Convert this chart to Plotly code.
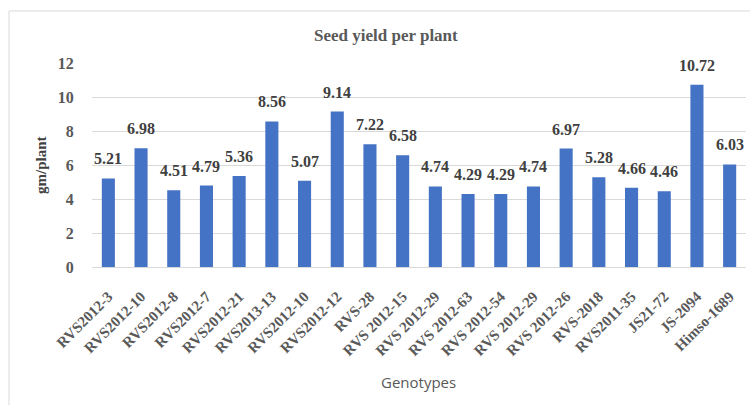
import plotly.graph_objects as go

genotypes = ["RVS2012-3", "RVS2012-10", "RVS2012-8", "RVS2012-7", "RVS2012-21",
             "RVS2013-13", "RVS2012-10", "RVS2012-12", "RVS-28", "RVS 2012-15",
             "RVS 2012-29", "RVS 2012-63", "RVS 2012-54", "RVS 2012-29", "RVS 2012-26",
             "RVS-2018", "RVS2011-35", "JS21-72", "JS-2094", "Himso-1689"]
yield_values = [5.21, 6.98, 4.51, 4.79, 5.36, 8.56, 5.07, 9.14, 7.22, 6.58,
                4.74, 4.29, 4.29, 4.74, 6.97, 5.28, 4.66, 4.46, 10.72, 6.03]
y_ticks = [0, 2, 4, 6, 8, 10, 12]

positions = list(range(len(genotypes)))

W, H = 750, 405
L, R, T, B = 92, 4, 63, 138
pw, ph = W - L - R, H - T - B

serif = "Liberation Serif, Times New Roman, serif"

fig = go.Figure(go.Bar(
    x=positions, y=yield_values,
    marker=dict(color="#4472C4", line=dict(width=0)),
    width=0.4,
    cliponaxis=False,
))

value_labels = [
    dict(x=xp, y=v, xref="x", yref="y", text=f"{v:.2f}", showarrow=False,
         xanchor="center", yanchor="bottom", yshift=9,
         font=dict(family=serif, size=16, color="#404040", weight="bold"))
    for xp, v in zip(positions, yield_values)
]

fig.update_layout(
    width=W, height=H,
    margin=dict(l=L, r=R, t=T, b=B),
    paper_bgcolor="white", plot_bgcolor="white",
    showlegend=False,
    font=dict(family=serif),
    xaxis=dict(
        tickmode="array", tickvals=positions, ticktext=genotypes,
        tickangle=-45, range=[-0.5, len(genotypes) - 0.5],
        tickfont=dict(family=serif, size=15, color="#595959", weight="bold"),
        showgrid=False, showline=True, linecolor="#d9d9d9", linewidth=1,
        ticks="outside", ticklen=14, tickcolor="rgba(0,0,0,0)",
        zeroline=False,
    ),
    yaxis=dict(
        range=[0, 12], tickvals=y_ticks,
        tickfont=dict(family=serif, size=16, color="#595959", weight="bold"),
        showgrid=True, gridcolor="#d9d9d9", gridwidth=1,
        zeroline=False, showline=False,
        ticks="outside", ticklen=14, tickcolor="rgba(0,0,0,0)",
    ),
    annotations=value_labels + [
        dict(text="Seed yield per plant", xref="paper", yref="paper",
             x=(386 - L) / pw, y=(H - B - 35) / ph, xanchor="center", yanchor="middle",
             showarrow=False, font=dict(family=serif, size=17, color="#595959", weight="bold")),
        dict(text="gm/plant", xref="paper", yref="paper",
             x=(41 - L) / pw, y=(H - B - 165) / ph, xanchor="center", yanchor="middle",
             textangle=-90, showarrow=False,
             font=dict(family=serif, size=15, color="#404040", weight="bold")),
        dict(text="Genotypes", xref="paper", yref="paper",
             x=(418 - L) / pw, y=(H - B - 382) / ph, xanchor="center", yanchor="middle",
             showarrow=False, font=dict(family="Open Sans, Liberation Sans, sans-serif", size=15, color="#595959")),
    ],
    shapes=[
        dict(type="rect", xref="paper", yref="paper",
             x0=(9 - L) / pw, x1=(W + 10 - L) / pw,
             y0=(H - B - (H + 10)) / ph, y1=(H - B - 11) / ph,
             line=dict(color="#d9d9d9", width=1), fillcolor="rgba(0,0,0,0)", layer="below"),
    ],
)

fig.write_html("out.html", config={"displayModeBar": False},
               post_script="document.body.style.margin='0';document.body.style.overflow='hidden';")
